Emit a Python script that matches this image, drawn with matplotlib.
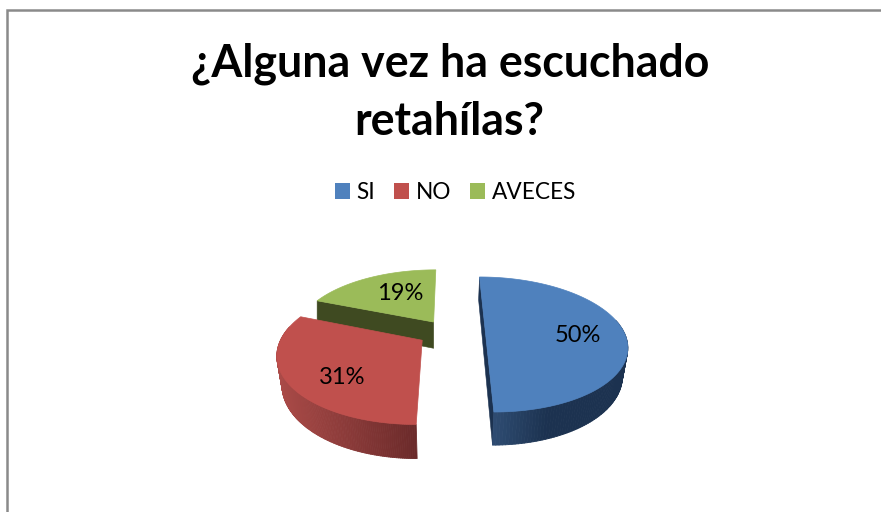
import numpy as np
import matplotlib
matplotlib.use("Agg")
import matplotlib.pyplot as plt
from matplotlib.collections import PolyCollection
from matplotlib.patches import Patch
from matplotlib.lines import Line2D

categories = ["SI", "NO", "AVECES"]
values = [50, 31, 19]
title_lines = ["¿Alguna vez ha escuchado", "retahílas?"]
top_colors = ["#4F81BD", "#C0504D", "#9BBB59"]
side_ramps = [("#2F4D73", "#1C3250", 491, 545), ("#AB4B48", "#6B2A2A", 280, 417), ("#3F4A21", "#3F4A21", 300, 440)]
chord_colors = ["#1C3250", "#7C2F2E", "#3F4A21"]
explode = [0.27, 0.22, 0.19]
label_pos = [(578, 336), (342, 378), (400, 294)]

X0, Y0, RX, RY, K, D0, SHRINK = 448, 332, 138.5, 65.2, 0.185, 27, 0.03
START = 0

plt.rcParams["font.family"] = ["Lato", "DejaVu Sans"]
fig = plt.figure(figsize=(8.81, 5.12), dpi=100, facecolor="white")
ax = fig.add_axes([0, 0, 1, 1])
ax.set_xlim(0, 881)
ax.set_ylim(512, 0)
ax.axis("off")

ax.add_line(Line2D([7, 7, 881], [512, 10, 10], color="#8A8A8A", lw=1.8, solid_joinstyle="miter"))


def project(wx, wy):
    w = 1 + K * wy
    return X0 + RX * wx / w, Y0 - RY * wy / w, w


def lower(x, y, w):
    return X0 + (x - X0) * (1 - SHRINK), y + D0 / w


def ramp(x, spec):
    c0, c1, a, b = spec
    t = np.clip((x - a) / (b - a), 0, 1)
    return tuple((1 - t) * np.array(matplotlib.colors.to_rgb(c0)) + t * np.array(matplotlib.colors.to_rgb(c1)))


fractions = np.array(values) / sum(values)
edges = START + 360 * np.concatenate([[0], np.cumsum(fractions)])

# paint back to front: green, red, blue
for i in [2, 1, 0]:
    a0, a1 = np.radians(edges[i]), np.radians(edges[i + 1])
    mid = (a0 + a1) / 2
    ox, oy = explode[i] * np.sin(mid), explode[i] * np.cos(mid)
    th = np.linspace(a0, a1, 160)
    rx_, ry_, rw = project(ox + np.sin(th), oy + np.cos(th))
    cx_, cy_, cw = project(ox, oy)
    lx, ly = lower(rx_, ry_, rw)
    clx, cly = lower(cx_, cy_, cw)

    # cut faces turned towards the viewer
    if i == 0:
        ax.fill([rx_[0], rx_[-1], lx[-1], lx[0]], [ry_[0], ry_[-1], ly[-1], ly[0]],
                color=chord_colors[i], lw=0.4)
    if i == 2:
        ax.fill([cx_, rx_[0], rx_[0], cx_], [cy_, ry_[0], ly[0], cly],
                color=chord_colors[i], lw=0.4)

    # outer wall, only where it faces the viewer
    quads, cols = [], []
    for j in range(len(th) - 1):
        if np.cos(th[j]) < 0.2:
            quads.append([(rx_[j], ry_[j]), (rx_[j + 1], ry_[j + 1]), (lx[j + 1], ly[j + 1]), (lx[j], ly[j])])
            cols.append(ramp((lx[j] + lx[j + 1]) / 2, side_ramps[i]))
    if quads:
        ax.add_collection(PolyCollection(quads, facecolors=cols, edgecolors=cols, linewidths=0.6))

    ax.fill(np.r_[cx_, rx_], np.r_[cy_, ry_], color=top_colors[i], lw=0.5)
    ax.text(*label_pos[i], f"{values[i]}%", fontsize=17, color="black", ha="center", va="center")

ax.text(450, 64, title_lines[0], fontsize=32.1, fontweight="bold", ha="center", va="center", color="black")
ax.text(449, 122, title_lines[1], fontsize=32.1, fontweight="bold", ha="center", va="center", color="black")

handles = [Patch(facecolor=c, edgecolor="none") for c in top_colors]
ax.legend(handles, categories, loc="center", bbox_to_anchor=(455.5 / 881, 1 - 192.5 / 512),
          ncols=3, frameon=False, fontsize=16.3, handlelength=0.66, handleheight=0.7,
          handletextpad=0.28, columnspacing=0.85, borderpad=0, borderaxespad=0)

fig.savefig("out.png", dpi=100)
